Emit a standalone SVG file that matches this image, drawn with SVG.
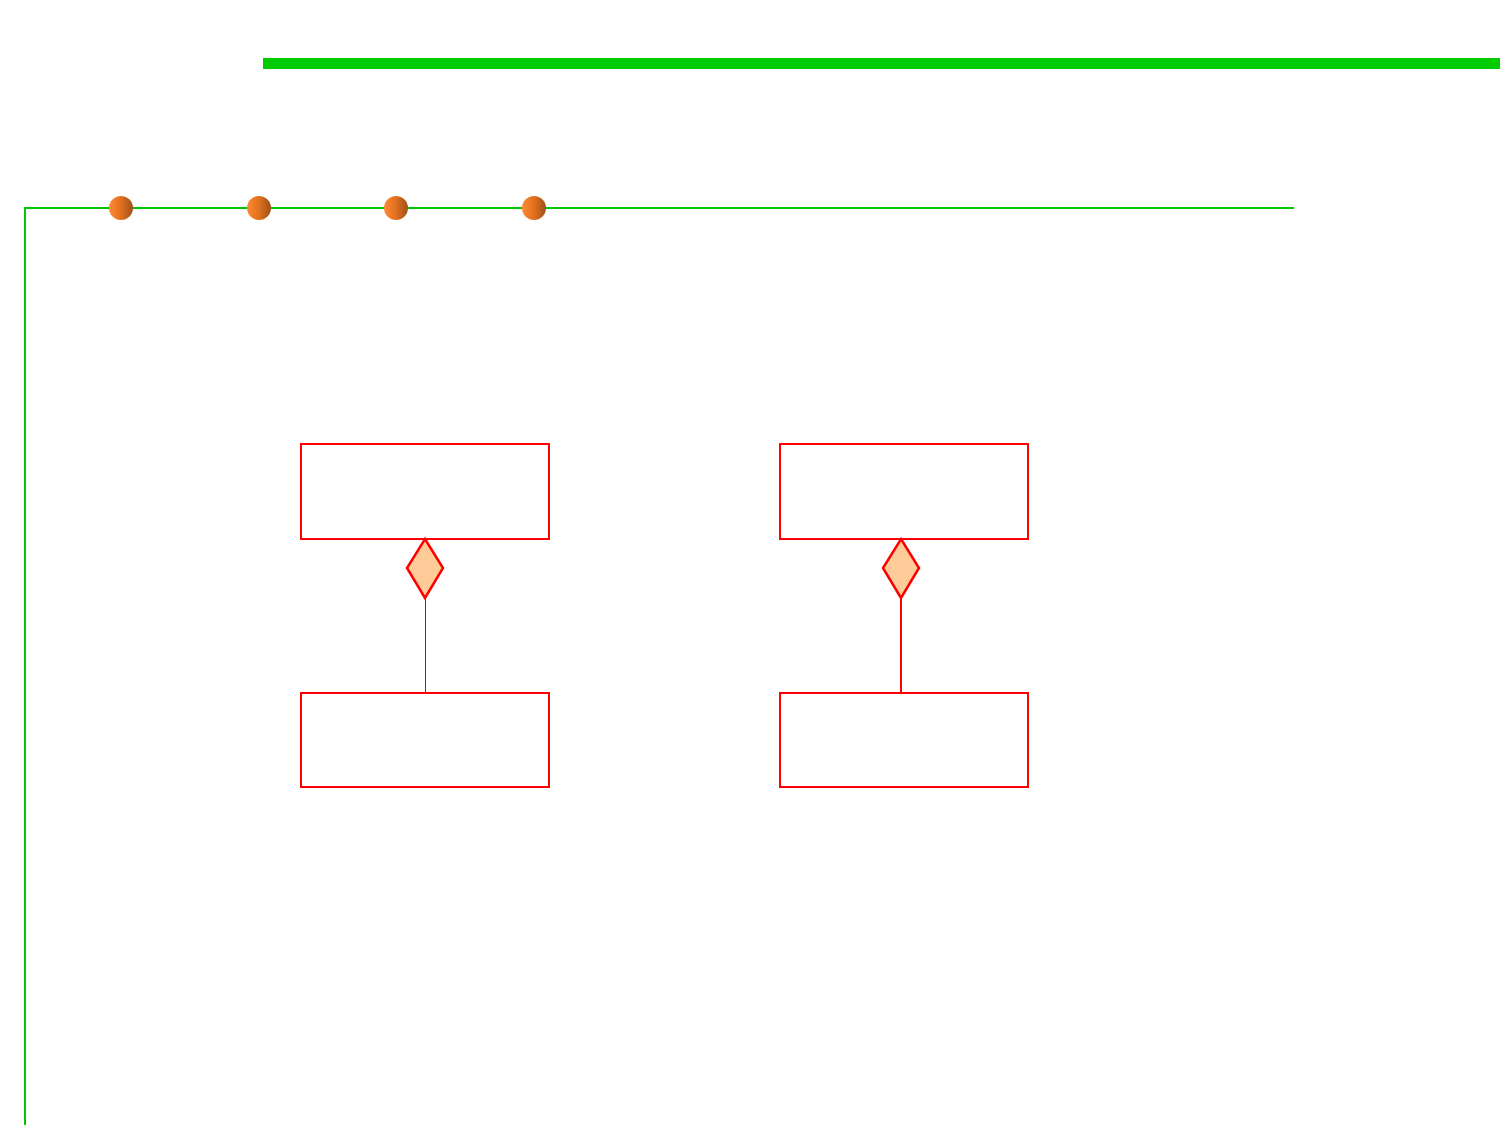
<svg xmlns="http://www.w3.org/2000/svg" width="1500" height="1125" viewBox="0 0 1500 1125">
<style>
.box{fill:#fff;stroke:#f00;stroke-width:2}
.dia{fill:#ffcc99;stroke:#f00;stroke-width:2.5}
.frame{fill:none;stroke:#00c800;stroke-width:2}
</style>
<defs>
<linearGradient id="ball" x1="0" y1="0" x2="1" y2="0">
<stop offset="0" stop-color="#ff8a33"/>
<stop offset="0.5" stop-color="#e0701f"/>
<stop offset="1" stop-color="#a0501a"/>
</linearGradient>
</defs>
<rect width="1500" height="1125" fill="#fff"/>
<rect x="263" y="58" width="1237" height="11" fill="#00cc00"/>
<path class="frame" d="M25,1125 V208 H1294"/>
<g id="dots">
<circle cx="121" cy="208" r="12" fill="url(#ball)"/>
<circle cx="259" cy="208" r="12" fill="url(#ball)"/>
<circle cx="396" cy="208" r="12" fill="url(#ball)"/>
<circle cx="534" cy="208" r="12" fill="url(#ball)"/>
</g>
<g id="connectors">
<line x1="425.5" y1="598" x2="425.5" y2="693" stroke="#d00" stroke-width="1"/>
<line x1="901" y1="598" x2="901" y2="693" stroke="#f00" stroke-width="2"/>
</g>
<g id="node1"><rect class="box" x="301" y="444" width="248" height="95"/></g>
<g id="node2"><rect class="box" x="780" y="444" width="248" height="95"/></g>
<g id="node3"><rect class="box" x="301" y="693" width="248" height="94"/></g>
<g id="node4"><rect class="box" x="780" y="693" width="248" height="94"/></g>
<g id="diamond1"><polygon class="dia" points="425,539 443,568 425,598 407,568"/></g>
<g id="diamond2"><polygon class="dia" points="901,539 919,568 901,598 883,568"/></g>
</svg>
